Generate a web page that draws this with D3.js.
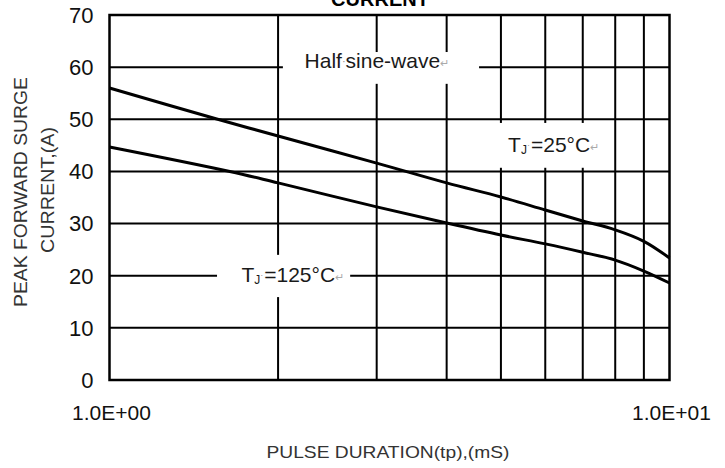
<!DOCTYPE html>
<html>
<head>
<meta charset="utf-8">
<script src="https://cdn.jsdelivr.net/npm/d3@7"></script>
<style>
  html, body { margin: 0; padding: 0; background: #fff; }
  svg { display: block; font-family: "Liberation Sans", Arial, sans-serif; }
</style>
</head>
<body>
<svg id="chart" width="725" height="468"></svg>
<script>
// ---- data ----
const pulseDuration25 = [1, 1.56, 2, 3, 4, 5, 6, 7, 8, 9, 10];
const current25      = [56.0, 50.0, 46.8, 41.6, 37.8, 35.1, 32.6, 30.5, 28.8, 26.6, 23.4];
const pulseDuration125 = [1, 1.64, 2, 3, 4, 5, 6, 7, 8, 9, 10];
const current125       = [44.7, 40.0, 37.8, 33.2, 30.1, 27.8, 26.1, 24.5, 23.0, 20.9, 18.6];
const yTicks = [0, 10, 20, 30, 40, 50, 60, 70];
const xGrid = [2, 3, 4, 5, 6, 7, 8, 9];
const xTickLabels = [{v: 1, t: "1.0E+00"}, {v: 10, t: "1.0E+01"}];

// ---- layout ----
const W = 725, H = 468;
const m = {left: 109.5, right: 55.5, top: 15, bottom: 88};
const svg = d3.select("#chart");
const x = d3.scaleLog().domain([1, 10]).range([m.left, W - m.right]);
const y = d3.scaleLinear().domain([0, 70]).range([H - m.bottom, m.top]);

// grid
const g = svg.append("g");
g.selectAll("line.v").data(xGrid).join("line")
  .attr("x1", d => x(d)).attr("x2", d => x(d))
  .attr("y1", y(0)).attr("y2", y(70))
  .attr("stroke", "#000").attr("stroke-width", 2);
g.selectAll("line.h").data(yTicks.filter(d => d > 0 && d < 70)).join("line")
  .attr("x1", x(1)).attr("x2", x(10))
  .attr("y1", d => y(d)).attr("y2", d => y(d))
  .attr("stroke", "#000").attr("stroke-width", 2);

// curves
const line = d3.line().x(d => x(d[0])).y(d => y(d[1])).curve(d3.curveCatmullRom.alpha(0.5));
svg.append("path").datum(d3.zip(pulseDuration25, current25))
  .attr("d", line).attr("fill", "none").attr("stroke", "#000").attr("stroke-width", 3);
svg.append("path").datum(d3.zip(pulseDuration125, current125))
  .attr("d", line).attr("fill", "none").attr("stroke", "#000").attr("stroke-width", 3);

// annotation boxes (white backgrounds in data space)
const notes = [
  {x0: 2.04, x1: 4.57, y0: 56.8, y1: 62.9, tx: 2.23, ty: 59.8, main: "Half", dot: "·", rest: "sine-wave", fs: 21},
  {x0: 4.04, x1: 7.89, y0: 40.7, y1: 49.3, tx: 5.15, ty: 43.7, sub: true, rest: "=25°C", fs: 21},
  {x0: 1.556, x1: 2.69, y0: 15.9, y1: 24.0, tx: 1.72, ty: 18.8, sub: true, rest: "=125°C", fs: 21}
];
notes.forEach(n => {
  svg.append("rect")
    .attr("x", x(n.x0)).attr("y", y(n.y1))
    .attr("width", x(n.x1) - x(n.x0)).attr("height", y(n.y0) - y(n.y1))
    .attr("fill", "#fff");
  const t = svg.append("text").attr("x", x(n.tx)).attr("y", y(n.ty))
    .attr("font-size", n.fs).attr("fill", "#1a1a1a");
  if (n.sub) {
    t.append("tspan").text("T");
    t.append("tspan").text("J").attr("font-size", 12).attr("dy", 2);
    t.append("tspan").text("·").attr("font-size", 9).attr("fill", "#999").attr("dy", -6);
    t.append("tspan").text(n.rest).attr("dy", 4).attr("dx", 1);
  } else {
    t.append("tspan").text(n.main);
    t.append("tspan").text(n.dot).attr("font-size", 11).attr("fill", "#888").attr("dy", -3);
    t.append("tspan").text(n.rest).attr("dy", 3);
  }
  t.append("tspan").text("↵").attr("font-size", 11).attr("fill", "#aaa").attr("dy", -1);
});

// frame
svg.append("rect").attr("x", x(1)).attr("y", y(70))
  .attr("width", x(10) - x(1)).attr("height", y(0) - y(70))
  .attr("fill", "none").attr("stroke", "#000").attr("stroke-width", 2.5);

// y tick labels
svg.selectAll("text.yt").data(yTicks).join("text")
  .attr("x", m.left - 16).attr("y", d => y(d)).attr("dy", "0.36em")
  .attr("text-anchor", "end").attr("font-size", 22).attr("fill", "#111")
  .text(d => d);

// x tick labels
svg.selectAll("text.xt").data(xTickLabels).join("text")
  .attr("x", d => x(d.v) + 2).attr("y", y(0) + 40)
  .attr("text-anchor", "middle").attr("font-size", 21).attr("fill", "#111")
  .text(d => d.t);

// axis titles
svg.append("text").attr("x", 388).attr("y", 458)
  .attr("text-anchor", "middle").attr("font-size", 17).attr("fill", "#333")
  .attr("textLength", 243).attr("lengthAdjust", "spacingAndGlyphs")
  .text("PULSE DURATION(tp),(mS)");
svg.append("text").attr("transform", "translate(27,192) rotate(-90)")
  .attr("text-anchor", "middle").attr("font-size", 18).attr("fill", "#333")
  .attr("textLength", 230).attr("lengthAdjust", "spacingAndGlyphs")
  .text("PEAK FORWARD SURGE");
svg.append("text").attr("transform", "translate(54,190) rotate(-90)")
  .attr("text-anchor", "middle").attr("font-size", 18).attr("fill", "#333")
  .attr("textLength", 126).attr("lengthAdjust", "spacingAndGlyphs")
  .text("CURRENT,(A)");

// cut-off title (reference shows only its lower part at the top edge)
svg.append("text").attr("x", 380).attr("y", 6)
  .attr("text-anchor", "middle").attr("font-size", 20).attr("font-weight", "bold")
  .attr("fill", "#000").text("CURRENT");
</script>
</body>
</html>
